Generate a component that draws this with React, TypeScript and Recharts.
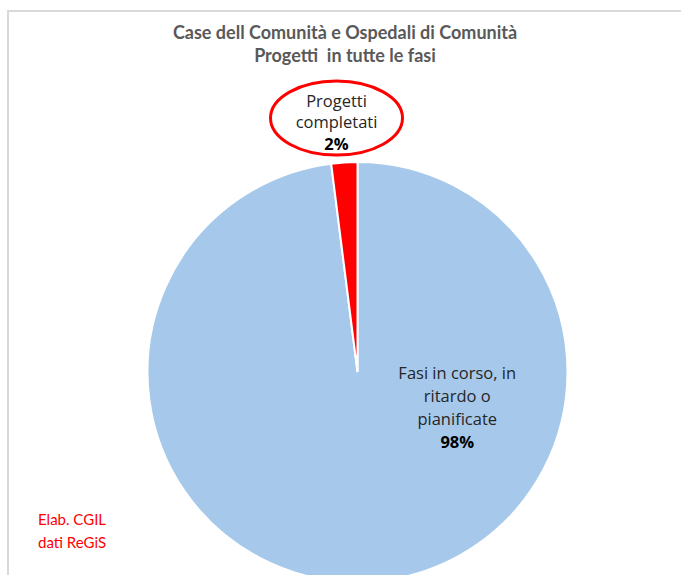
import React from "react";
import { PieChart, Pie, Cell } from "recharts";

const categories = ["Fasi in corso, in ritardo o pianificate", "Progetti completati"];
const values = [98, 2];
const labelLines = [["Fasi in corso, in", "ritardo o", "pianificate"], ["Progetti", "completati"]];
const percentLabels = ["98%", "2%"];
const colors = ["#a6c9eb", "#ff0000"];

const titleLines = ["Case dell Comunità e Ospedali di Comunità", "Progetti  in tutte le fasi"];
const noteLines = ["Elab. CGIL", "dati ReGiS"];

const data = categories.map((name, i) => ({ name, value: values[i] }));

// label offsets as fraction of the outer radius (relative to pie centre)
const labelOffsets = [
  { dx: 0.475, dy: 0.0, lh: 23 },
  { dx: -0.1, dy: -1.295, lh: 21.5 },
];

const FONT = "Lato, 'Open Sans', sans-serif";
const LFONT = "'Open Sans', Lato, sans-serif";

const renderLabel = (props: any) => {
  const { cx, cy, outerRadius, index } = props;
  const off = labelOffsets[index];
  const x = cx + off.dx * outerRadius;
  const top = cy + off.dy * outerRadius;
  const lines = labelLines[index];
  const lh = off.lh;
  return (
    <g key={`lbl-${index}`}>
      {index === 1 && (
        <ellipse
          cx={x}
          cy={top + 18}
          rx={66}
          ry={37}
          fill="#ffffff"
          stroke="#ff0000"
          strokeWidth={3}
        />
      )}
      {lines.map((t, j) => (
        <text
          key={j}
          x={x}
          y={top + j * lh}
          textAnchor="middle"
          dominantBaseline="central"
          fontFamily={LFONT}
          fontSize={16.5}
          fill="#262626"
        >
          {t}
        </text>
      ))}
      <text
        x={x}
        y={top + lines.length * lh}
        textAnchor="middle"
        dominantBaseline="central"
        fontFamily={LFONT}
        fontSize={16.5}
        fontWeight="bold"
        fill="#000000"
      >
        {percentLabels[index]}
      </text>
    </g>
  );
};

export default function App() {
  return (
    <div
      style={{
        position: "absolute",
        left: 0,
        top: 0,
        width: 681,
        height: 575,
        background: "#ffffff",
        overflow: "hidden",
      }}
    >
      <div
        style={{
          position: "absolute",
          left: 7,
          top: 10,
          width: 674,
          height: 565,
          borderTop: "2px solid #d9d9d9",
          borderLeft: "2px solid #d9d9d9",
        }}
      />
      <div style={{ position: "absolute", left: 0, top: 0 }}>
        <PieChart width={681} height={575} margin={{ top: 0, right: 0, bottom: 0, left: 0 }}>
          <Pie
            data={data}
            dataKey="value"
            nameKey="name"
            cx={357.5}
            cy={372}
            outerRadius={210}
            innerRadius={0}
            startAngle={90}
            endAngle={-270}
            stroke="#ffffff"
            strokeWidth={2}
            label={renderLabel}
            labelLine={false}
            isAnimationActive={false}
          >
            {data.map((d, i) => (
              <Cell key={d.name} fill={colors[i]} />
            ))}
          </Pie>
        </PieChart>
      </div>
      <div
        style={{
          position: "absolute",
          left: 0,
          top: 21,
          width: 690,
          textAlign: "center",
          fontFamily: FONT,
          fontWeight: "bold",
          fontSize: 18,
          lineHeight: "23px",
          color: "#595959",
        }}
      >
        {titleLines.map((t) => (
          <div key={t} style={{ whiteSpace: "pre" }}>{t}</div>
        ))}
      </div>
      <div
        style={{
          position: "absolute",
          left: 38,
          top: 508,
          fontFamily: FONT,
          fontSize: 15,
          lineHeight: "23px",
          color: "#ff0000",
        }}
      >
        {noteLines.map((t) => (
          <div key={t}>{t}</div>
        ))}
      </div>
    </div>
  );
}
